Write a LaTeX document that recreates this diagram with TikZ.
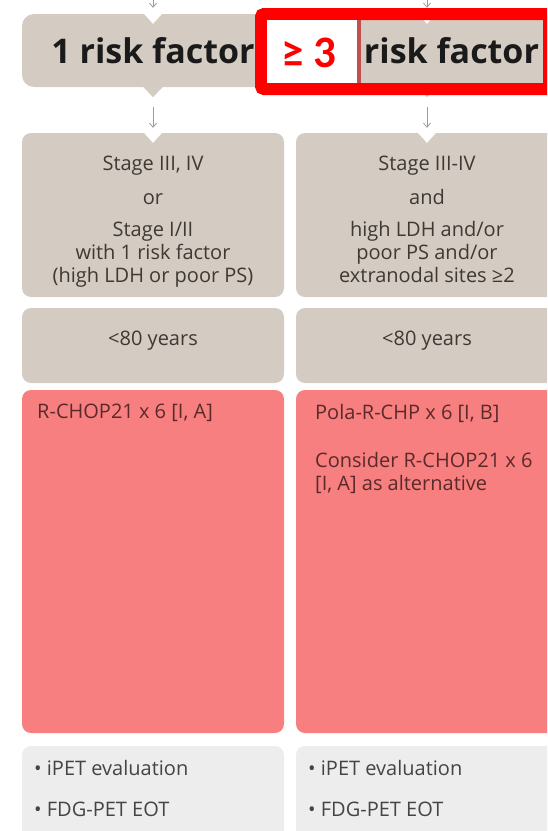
\documentclass[tikz,border=0pt]{standalone}
\usepackage{fontspec}
\setmainfont{Open Sans}
\newfontfamily\calib{Carlito}
\usetikzlibrary{arrows.meta,positioning}

\definecolor{boxtan}{HTML}{D4CCC2}
\definecolor{boxred}{HTML}{F77F7F}
\definecolor{boxgray}{HTML}{EDEDED}
\definecolor{txttan}{HTML}{3E3934}
\definecolor{txtred}{HTML}{5A2A2A}
\definecolor{txtgray}{HTML}{444444}
\definecolor{txthdr}{HTML}{1A1A1A}
\definecolor{arrowgray}{HTML}{9B9B9B}
\definecolor{hlred}{HTML}{FF0000}
\definecolor{divred}{HTML}{C0504D}

\newcommand{\bodyfont}{\fontsize{20}{23}\selectfont}
\newcommand{\hdrfont}{\fontsize{34}{38}\selectfont\bfseries}

\tikzset{
  box/.style={rounded corners=9pt, minimum width=262pt, inner sep=0pt,
    align=center, font=\bodyfont},
  hdrbox/.style={box, fill=boxtan, minimum height=73pt, rounded corners=12pt,
    text=txthdr, font=\hdrfont},
  tanbox/.style={box, fill=boxtan, text=txttan},
  redbox/.style={box, fill=boxred},
  graybox/.style={box, fill=boxgray},
  boxtext/.style={anchor=north west, inner sep=0pt, align=left, font=\bodyfont},
  stagetext/.style={anchor=north, inner sep=0pt, align=center, font=\bodyfont, text=txttan},
  arr/.style={draw=arrowgray, line width=0.8pt, -{Straight Barb[length=4pt,width=7pt]}},
}

\begin{document}
\begin{tikzpicture}[x=1pt,y=-1pt]
  \useasboundingbox (0,0) rectangle (547,831);
  \clip (0,0) rectangle (547,831);

  % risk factor row
  \node[hdrbox] (hdrL) at (153,50.5) {1 risk factor};
  \node[hdrbox] (hdrR) at (427,50.5) {};
  \node[font=\hdrfont, text=txthdr, inner sep=0pt] (rfR) at (451.5,50.5) {risk factor};

  % stage row
  \node[tanbox, minimum height=164pt] (stgL) at (153,215) {};
  \node[tanbox, minimum height=164pt] (stgR) at (427,215) {};
  \node[stagetext] (stgLtxt) at (153,155.5)
    {Stage III, IV\\[11pt]or\\[9pt]Stage I/II\\with 1 risk factor\\(high LDH or poor PS)};
  \node[stagetext] (stgRtxt) at (427,155.5)
    {Stage III-IV\\[11pt]and\\[9pt]high LDH and/or\\poor PS and/or\\extranodal sites ≥2};

  % age row
  \node[tanbox, minimum height=75pt, text height=12pt, text depth=12pt] (ageL) at (153,345.5) {<80 years};
  \node[tanbox, minimum height=75pt, text height=12pt, text depth=12pt] (ageR) at (427,345.5) {<80 years};

  % treatment row
  \node[redbox, minimum height=343pt] (trtL) at (153,561.5) {};
  \node[redbox, minimum height=343pt] (trtR) at (427,561.5) {};
  \node[boxtext, text=txtred] (trtLtxt) at (37,404) {R-CHOP21 x 6 [I, A]};
  \node[boxtext, text=txtred] (trtRtxt) at (315,404)
    {Pola-R-CHP x 6 [I, B]\\[25pt]Consider R-CHOP21 x 6\\{}[I, A] as alternative};

  % follow-up row
  \node[graybox, minimum height=100pt] (fupL) at (153,796) {};
  \node[graybox, minimum height=100pt] (fupR) at (427,796) {};
  \node[boxtext, text=txtgray] (fupLtxt) at (34,760)
    {\textbullet\ iPET evaluation\\[18pt]\textbullet\ FDG-PET EOT};
  \node[boxtext, text=txtgray] (fupRtxt) at (308,760)
    {\textbullet\ iPET evaluation\\[18pt]\textbullet\ FDG-PET EOT};

  % notches and tips
  \foreach \n in {hdrL,hdrR,stgL,stgR}
    \fill[white] ([xshift=-10pt,yshift=1pt]\n.north) -- ([xshift=10pt,yshift=1pt]\n.north)
      -- ([yshift=-10pt]\n.north) -- cycle;
  \foreach \n in {hdrL,hdrR}
    \fill[boxtan] ([xshift=-10pt,yshift=0.5pt]\n.south) -- ([xshift=10pt,yshift=0.5pt]\n.south)
      -- ([yshift=-10pt]\n.south) -- cycle;

  % arrows
  \coordinate (inL) at (153,0);
  \coordinate (inR) at (427,0);
  \draw[arr, shorten >=6pt] (inL) -- (hdrL);
  \draw[arr, shorten >=6pt] (inR) -- (hdrR);
  \draw[arr, shorten <=20pt, shorten >=5pt] (hdrL) -- (stgL);
  \draw[arr, shorten <=20pt, shorten >=5pt] (hdrR) -- (stgR);

  % highlight
  \draw[hlred, line width=12pt, rounded corners=3pt] (261,14) rectangle (549,89);
  \fill[white] (267,20) rectangle (357,83);
  \fill[divred] (357,20) rectangle (361,83);
  \node[text=hlred, font=\calib\fontsize{45}{48}\selectfont\bfseries, inner sep=0pt] (geq) at (309,53) {≥ 3};
\end{tikzpicture}
\end{document}
